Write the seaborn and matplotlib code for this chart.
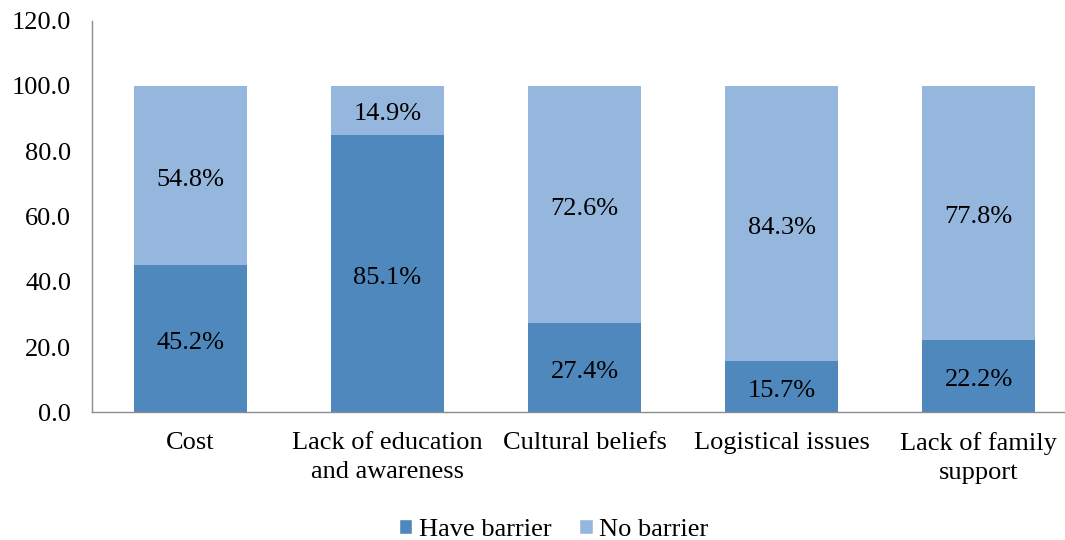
import matplotlib
matplotlib.use("Agg")
import matplotlib.pyplot as plt
import seaborn as sns
import pandas as pd
from matplotlib.patches import Patch

categories = ["Cost", "Lack of education\nand awareness", "Cultural beliefs",
              "Logistical issues", "Lack of family\nsupport"]
have_barrier = [45.2, 85.1, 27.4, 15.7, 22.2]
no_barrier = [54.8, 14.9, 72.6, 84.3, 77.8]
series_names = ["Have barrier", "No barrier"]
y_ticks = [0, 20, 40, 60, 80, 100, 120]

dark = "#4F88BD"
light = "#95B7DE"
fs = 19

sns.set_theme(style="white")
plt.rcParams["font.family"] = ["Liberation Serif", "DejaVu Serif"]
plt.rcParams["text.color"] = "black"
plt.rcParams["xtick.color"] = "black"
plt.rcParams["ytick.color"] = "black"

df = pd.DataFrame({"cat": categories, "have": have_barrier, "no": no_barrier})

fig = plt.figure(figsize=(10.65, 5.4), dpi=100)
ax = fig.add_axes([0.0864, 0.2365, 0.925, 0.7252])

sns.barplot(data=df, x="cat", y="have", color=dark, width=0.57,
            saturation=1, ax=ax, order=categories, linewidth=0, edgecolor="none")
sns.barplot(data=df, x="cat", y="no", color=light, width=0.57,
            saturation=1, ax=ax, order=categories, bottom=df["have"].values,
            linewidth=0, edgecolor="none")

# value labels centred in each segment
for i, (h, n) in enumerate(zip(have_barrier, no_barrier)):
    for y, v in ((h / 2, h), (h + n / 2, n)):
        ax.annotate(f"{v:.1f}%", xy=(i, y), xytext=(0, -3),
                    textcoords="offset points", ha="center", va="center",
                    fontsize=fs, color="black")

ax.set_xlim(-0.5, 4.5)
ax.set_ylim(0, 120)
ax.set_yticks(y_ticks)
ax.set_yticklabels([f"{v:.1f}" for v in y_ticks], fontsize=fs)
ax.set_xticks(range(len(categories)))
ax.set_xticklabels(categories, fontsize=fs, linespacing=1.45)
ax.tick_params(axis="x", length=0, pad=14)
ax.tick_params(axis="y", length=0, pad=15)
ax.set_xlabel("")
ax.set_ylabel("")

for side in ["top", "right"]:
    ax.spines[side].set_visible(False)
for side in ["left", "bottom"]:
    ax.spines[side].set_color("#8C8C8C")
    ax.spines[side].set_linewidth(1.0)

handles = [Patch(facecolor=dark, label=series_names[0]),
           Patch(facecolor=light, label=series_names[1])]
fig.legend(handles=handles, loc="lower center", bbox_to_anchor=(0.52, -0.045),
           ncol=2, frameon=False, fontsize=fs, handlelength=0.5,
           handleheight=0.5, handletextpad=0.25, columnspacing=1.05)

fig.savefig("out.png", dpi=100)
